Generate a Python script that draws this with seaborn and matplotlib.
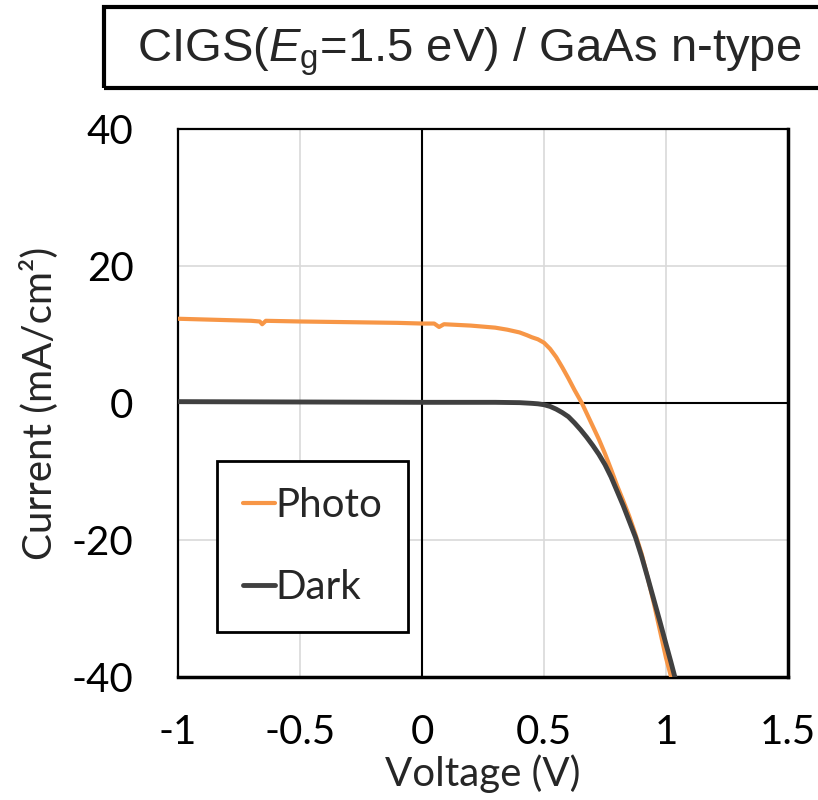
import numpy as np
import pandas as pd
import matplotlib
matplotlib.use("Agg")
import matplotlib.pyplot as plt
from matplotlib.patches import Rectangle
import seaborn as sns

# ---- data ----
photo_v = [-1.0, -0.9, -0.8, -0.7, -0.665, -0.655, -0.64, -0.5, -0.3, -0.1, 0.0, 0.05, 0.07, 0.09,
           0.2, 0.3, 0.35, 0.4, 0.43, 0.45, 0.475, 0.5, 0.525, 0.55, 0.575, 0.6, 0.625, 0.655,
           0.7, 0.725, 0.75, 0.775, 0.8, 0.825, 0.85, 0.875, 0.9, 0.925, 0.95, 0.975, 1.0, 1.03]
photo_j = [12.3, 12.2, 12.1, 12.0, 11.9, 11.5, 12.0, 11.9, 11.8, 11.7, 11.6, 11.6, 11.1, 11.5,
           11.3, 11.0, 10.7, 10.3, 9.9, 9.6, 9.3, 8.8, 7.9, 6.7, 5.2, 3.6, 1.9, 0.0,
           -3.4, -5.3, -7.4, -9.7, -12.1, -14.3, -16.6, -19.2, -22.0, -25.5, -29.2, -33.2, -37.2, -41.2]
dark_v = [-1.0, -0.5, 0.0, 0.3, 0.4, 0.45, 0.475, 0.5, 0.525, 0.55, 0.575, 0.6, 0.625, 0.65,
          0.675, 0.7, 0.725, 0.75, 0.775, 0.8, 0.825, 0.85, 0.875, 0.9, 0.925, 0.95, 0.975, 1.0, 1.02, 1.04]
dark_j = [0.2, 0.15, 0.1, 0.1, 0.05, -0.05, -0.12, -0.25, -0.5, -0.9, -1.4, -2.0, -2.9, -3.9,
          -5.0, -6.2, -7.5, -9.0, -10.8, -12.9, -15.0, -17.3, -19.6, -22.4, -25.5, -28.7, -31.9, -35.2, -37.8, -40.5]
series_names = ["Photo", "Dark"]
x_ticks = [-1, -0.5, 0, 0.5, 1, 1.5]
x_tick_labels = ["-1", "-0.5", "0", "0.5", "1", "1.5"]
y_ticks = [-40, -20, 0, 20, 40]
y_tick_labels = ["-40", "-20", "0", "20", "40"]
title_text = "CIGS($\\mathit{E}_{\\mathrm{g}}$=1.5 eV) / GaAs n-type"
x_label = "Voltage (V)"
y_label = "Current (mA/cm²)"

sns.set_style("white")
plt.rcParams["font.family"] = ["Lato", "DejaVu Sans"]
plt.rcParams["axes.unicode_minus"] = False
plt.rcParams["mathtext.fontset"] = "custom"
plt.rcParams["mathtext.rm"] = "Liberation Sans"
plt.rcParams["mathtext.it"] = "Liberation Sans:italic"

df_photo = pd.DataFrame({"V": photo_v, "J": photo_j, "Series": series_names[0]})
df_dark = pd.DataFrame({"V": dark_v, "J": dark_j, "Series": series_names[1]})

fig = plt.figure(figsize=(8.18, 8.0), dpi=100)
ax = fig.add_axes([178/818, 1-677/800, 610/818, 548/800])

orange = "#F79646"
dark = "#404040"

# grid
for xv in x_ticks:
    ax.axvline(xv, color="#d9d9d9", lw=1.2, zorder=0)
for yv in y_ticks:
    ax.axhline(yv, color="#d9d9d9", lw=1.2, zorder=0)
ax.axvline(0, color="black", lw=1.5, zorder=1)
ax.axhline(0, color="black", lw=1.5, zorder=1)

sns.lineplot(data=df_photo, x="V", y="J", ax=ax, color=orange, lw=3.0,
             sort=False, estimator=None, label=series_names[0], zorder=3)
sns.lineplot(data=df_dark, x="V", y="J", ax=ax, color=dark, lw=3.5,
             sort=False, estimator=None, label=series_names[1], zorder=4)

ax.set_xlim(-1, 1.5)
ax.set_ylim(-40, 40)
ax.set_xticks(x_ticks)
ax.set_xticklabels(x_tick_labels)
ax.set_yticks(y_ticks)
ax.set_yticklabels(y_tick_labels)
ax.tick_params(axis="both", length=0, labelsize=29, colors="black")
ax.tick_params(axis="y", pad=32)
ax.tick_params(axis="x", pad=27)
ax.set_xlabel(x_label, fontsize=29, labelpad=2)
ax.set_ylabel(y_label, fontsize=29, labelpad=10)
for s in ax.spines.values():
    s.set_visible(True)
    s.set_color("black")
    s.set_linewidth(1.6)
ax.spines["right"].set_linewidth(2.5)
ax.spines["bottom"].set_linewidth(2.5)

leg = ax.legend(loc="upper left", bbox_to_anchor=(39/610, (677-462)/546), fontsize=29,
                frameon=True, fancybox=False, framealpha=1, edgecolor="black",
                handlelength=0.8, handletextpad=0.0, labelspacing=1.1, borderpad=0.65,
                borderaxespad=0)
leg.get_frame().set_linewidth(2.0)

# title box
fig.patches.append(Rectangle((104/818, 1-88/800), 2.0, 81/800, transform=fig.transFigure,
                             fill=False, edgecolor="black", lw=3.0, clip_on=False))
fig.text(137/818, 1-62/800, title_text, fontsize=34, family="Liberation Sans",
         ha="left", va="baseline")

fig.savefig("out.png", dpi=100)
